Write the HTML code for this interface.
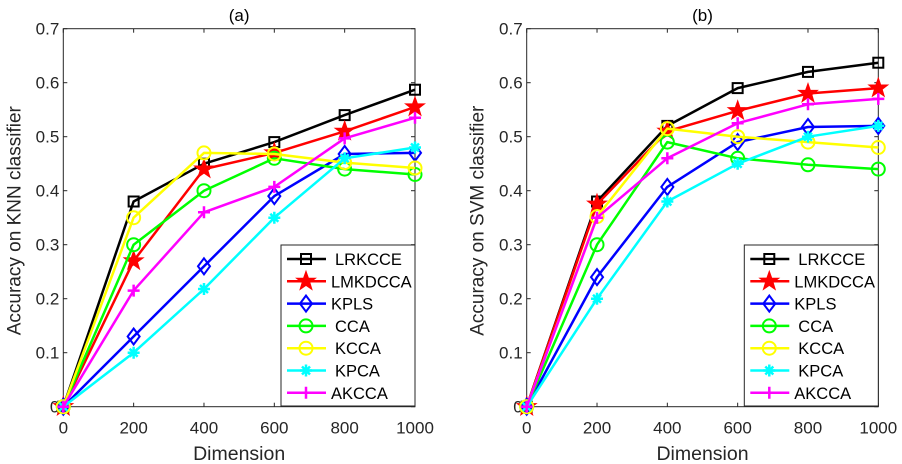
<!DOCTYPE html>
<html><head><meta charset="utf-8">
<style>
html,body{margin:0;padding:0;background:#fff;}
svg{display:block;font-family:"Liberation Sans",Arial,sans-serif;}
</style></head>
<body>
<svg id="chart" width="902" height="464" viewBox="0 0 902 464" xmlns="http://www.w3.org/2000/svg"></svg>
<script>
const categories = [0, 200, 400, 600, 800, 1000];
const seriesNames = ["LRKCCE","LMKDCCA","KPLS","CCA","KCCA","KPCA","AKCCA"];
const knnLRKCCE = [0,0.38,0.45,0.49,0.54,0.587];
const knnLMKDCCA = [0,0.27,0.44,0.47,0.51,0.555];
const knnKPLS = [0,0.13,0.26,0.39,0.468,0.47];
const knnCCA = [0,0.30,0.40,0.46,0.44,0.43];
const knnKCCA = [0,0.35,0.47,0.468,0.452,0.442];
const knnKPCA = [0,0.10,0.218,0.35,0.46,0.48];
const knnAKCCA = [0,0.215,0.36,0.407,0.497,0.535];
const svmLRKCCE = [0,0.38,0.52,0.59,0.62,0.637];
const svmLMKDCCA = [0,0.375,0.51,0.548,0.58,0.59];
const svmKPLS = [0,0.24,0.407,0.49,0.518,0.52];
const svmCCA = [0,0.30,0.49,0.46,0.448,0.44];
const svmKCCA = [0,0.352,0.515,0.50,0.49,0.48];
const svmKPCA = [0,0.20,0.38,0.45,0.50,0.52];
const svmAKCCA = [0,0.35,0.46,0.525,0.56,0.57];
const yTicks = [0,0.1,0.2,0.3,0.4,0.5,0.6,0.7];
const yTickLabels = ["0","0.1","0.2","0.3","0.4","0.5","0.6","0.7"];
const xTickLabels = ["0","200","400","600","800","1000"];

const colors = ["#000000","#ff0000","#0000ff","#00ff00","#ffff00","#00ffff","#ff00ff"];
const markers = ["square","star","diamond","circle","circle","asterisk","plus"];
const NS = "http://www.w3.org/2000/svg";
const svg = document.getElementById("chart");
function mk(tag, attrs, parent){
  const e = document.createElementNS(NS, tag);
  for (const k in attrs) e.setAttribute(k, attrs[k]);
  (parent||svg).appendChild(e);
  return e;
}
function drawMarker(g, type, x, y, c){
  let m;
  if (type==="square") m = mk("rect",{x:x-5,y:y-5,width:10,height:10,fill:"none",stroke:c,"stroke-width":2},g);
  else if (type==="circle") m = mk("circle",{cx:x,cy:y,r:6.5,fill:"none",stroke:c,"stroke-width":2},g);
  else if (type==="diamond") m = mk("polygon",{points:`${x},${y-8} ${x+6},${y} ${x},${y+8} ${x-6},${y}`,fill:"none",stroke:c,"stroke-width":2},g);
  else if (type==="star"){
    let p=[];for(let i=0;i<10;i++){const r=i%2?4:10;const a=-Math.PI/2+i*Math.PI/5;p.push((x+r*Math.cos(a)).toFixed(1)+","+(y+r*Math.sin(a)).toFixed(1));}
    m = mk("polygon",{points:p.join(" "),fill:c,stroke:c,"stroke-width":1},g);
  } else if (type==="plus"){
    m = mk("path",{d:`M${x-6},${y}H${x+6}M${x},${y-6}V${y+6}`,stroke:c,"stroke-width":2.5,fill:"none"},g);
  } else {
    m = mk("path",{d:`M${x-6},${y}H${x+6}M${x},${y-6}V${y+6}M${x-4},${y-4}L${x+4},${y+4}M${x-4},${y+4}L${x+4},${y-4}`,stroke:c,"stroke-width":2.5,fill:"none"},g);
  }
  return m;
}
function drawPanel(p){
  const g = mk("g",{});
  
  
  const xs = v => p.x0 + (v/1000)*(p.x1-p.x0);
  const ys = v => p.y0 - (v/0.7)*(p.y0-p.y1);
  const frame = mk("rect",{x:p.x0,y:p.y1,width:p.x1-p.x0,height:p.y0-p.y1,fill:"#fff",stroke:"#262626","stroke-width":1},g);
  
  
  yTicks.forEach((t,i)=>{
    const y = ys(t);
    mk("line",{x1:p.x0,y1:y,x2:p.x0+4,y2:y,stroke:"#262626"},g);
    mk("line",{x1:p.x1,y1:y,x2:p.x1-4,y2:y,stroke:"#262626"},g);
    const tx = mk("text",{x:p.x0-4,y:y+6,"text-anchor":"end","font-size":17,fill:"#262626"},g);
    tx.textContent = yTickLabels[i];
    
    
  });
  categories.forEach((c,i)=>{
    const x = xs(c);
    mk("line",{x1:x,y1:p.y0,x2:x,y2:p.y0-4,stroke:"#262626"},g);
    mk("line",{x1:x,y1:p.y1,x2:x,y2:p.y1+4,stroke:"#262626"},g);
    const tx = mk("text",{x:x,y:p.y0+27,"text-anchor":"middle","font-size":17,fill:"#262626"},g);
    tx.textContent = xTickLabels[i];
    
    
  });
  const t = mk("text",{x:(p.x0+p.x1)/2,y:21,"text-anchor":"middle","font-size":17,fill:"#000"},g);
  t.textContent = p.title;
  
  
  const xl = mk("text",{x:(p.x0+p.x1)/2,y:460,"text-anchor":"middle","font-size":19.5,fill:"#262626"},g);
  xl.textContent = "Dimension";
  
  
  const yl = mk("text",{x:0,y:0,"text-anchor":"middle","font-size":19,fill:"#262626",transform:`translate(${p.x0-43},${(p.y0+p.y1)/2+3}) rotate(-90)`},g);
  yl.textContent = p.ylabel;
  
  
  p.series.forEach((vals,si)=>{
    const sg = mk("g",{},g);
    
    
    const pts = vals.map((v,i)=>xs(categories[i]).toFixed(1)+","+ys(v).toFixed(1)).join(" ");
    const line = mk("polyline",{points:pts,fill:"none",stroke:colors[si],"stroke-width":2.5,"stroke-linejoin":"round"},sg);
    
    
    vals.forEach((v,i)=>{
      const m = drawMarker(sg, markers[si], xs(categories[i]), ys(v), colors[si]);
      
      
    });
  });
  const lg = mk("g",{},g);
  
  
  const lx = p.x1-134;
  mk("rect",{x:lx,y:245,width:134,height:161,fill:"#fff",stroke:"#262626","stroke-width":1},lg);
  const textX = [333,329,329,333,333,333,329];
  seriesNames.forEach((n,i)=>{
    const y = 259 + i*22.3;
    const eg = mk("g",{},lg);
    
    
    mk("line",{x1:lx+6,y1:y,x2:lx+45,y2:y,stroke:colors[i],"stroke-width":2.5},eg);
    drawMarker(eg, markers[i], lx+25, y, colors[i]);
    const tx = mk("text",{x:lx+(textX[i]-279),y:y+6,"font-size":16.5,fill:"#000"},eg);
    tx.textContent = n;
  });
}
drawPanel({name:"panel-knn",title:"(a)",ylabel:"Accuracy on KNN classifier",x0:63.3,x1:415,y0:406.7,y1:28.7,
  series:[knnLRKCCE,knnLMKDCCA,knnKPLS,knnCCA,knnKCCA,knnKPCA,knnAKCCA]});
drawPanel({name:"panel-svm",title:"(b)",ylabel:"Accuracy on SVM classifier",x0:526.7,x1:878.3,y0:406.7,y1:28.7,
  series:[svmLRKCCE,svmLMKDCCA,svmKPLS,svmCCA,svmKCCA,svmKPCA,svmAKCCA]});
</script>
</body></html>
